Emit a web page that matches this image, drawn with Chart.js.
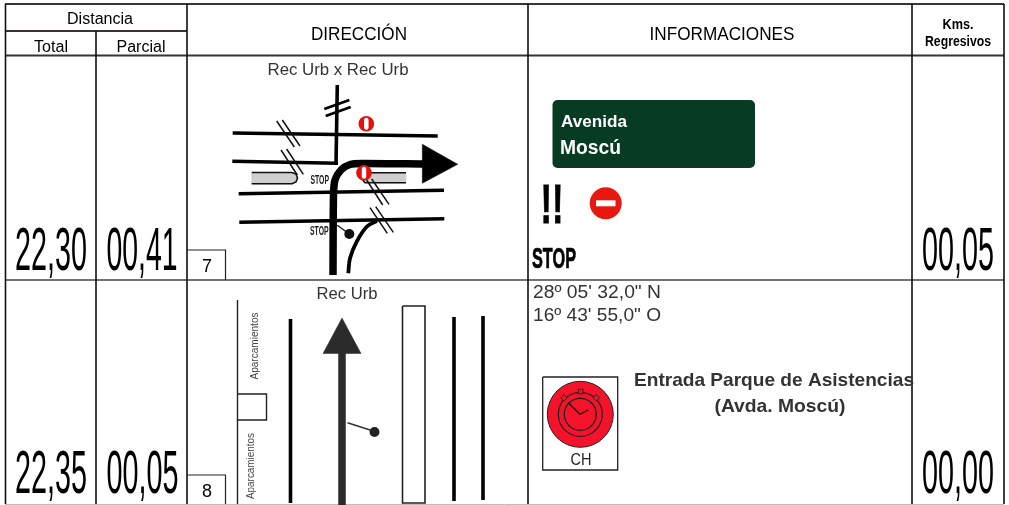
<!DOCTYPE html>
<html lang="es">
<head>
<meta charset="utf-8">
<title>Rutómetro</title>
<script src="https://cdn.jsdelivr.net/npm/chart.js@4"></script>
<style>
  html, body { margin: 0; background: #fff; }
  canvas { display: block; }
</style>
</head>
<body>
<canvas id="roadbook" width="1009" height="505"></canvas>
<script>
/* Valores del rutómetro */
const distTotal = ['22,30', '22,35'];
const distParcial = ['00,41', '00,05'];
const kmsRegresivos = ['00,05', '00,00'];
const casillas = ['7', '8'];
const viaTipo = ['Rec Urb x Rec Urb', 'Rec Urb'];
const coordenadas = ['28º 05\' 32,0" N', '16º 43\' 55,0" O'];
const lugar = ['Entrada Parque de Asistencias', '(Avda. Moscú)'];
const cartel = ['Avenida', 'Moscú'];
const cabecera = ['Distancia', 'Total', 'Parcial', 'DIRECCIÓN', 'INFORMACIONES', 'Kms.', 'Regresivos'];

/* Trazos del croquis, en las unidades de los ejes (0-1009 / 0-505) */
const gridDark = [[[5, 4], [1004, 4]], [[5, 55.5], [1004, 55.5]], [[5, 31], [187, 31]]];
const gridRow = [[[5, 280], [1004, 280]]];
const gridBottom = [[[5, 504.5], [1004, 504.5]]];
const gridCols = [[[5.5, 4], [5.5, 504]], [[96, 31], [96, 504]], [[187, 4], [187, 504]], [[528, 4], [528, 504]], [[912, 4], [912, 504]], [[1004, 4], [1004, 504]]];
const boxes = [
  [[187, 250], [225.5, 250], [225.5, 280]],
  [[187, 475], [225.5, 475], [225.5, 504]]
];

const crossStreets = [
  [[232.7, 133], [437.7, 136]],
  [[232.3, 161.3], [338, 163.3]],
  [[238.7, 193.7], [444, 190.3]],
  [[239.3, 222.3], [444.3, 218.7]],
  [[337.3, 85], [336, 165]]
];
const topHatch = [
  [[324.3, 109], [349.3, 100]], [[325.7, 116], [350.7, 107]]
];
const hatchMarks = [
  [[276.7, 121], [294.3, 147]], [[282.3, 120], [300, 146]],
  [[281, 150], [297.3, 175]], [[286.7, 149], [303.3, 174.3]],
  [[366.7, 180], [382.7, 205]], [[371.7, 179], [389, 204.3]],
  [[370, 207.7], [387.3, 233.3]], [[375.7, 206.7], [393.3, 232.3]]
];
const routeMain = [[333, 275], [333.5, 195], [335, 180], [341, 170], [350, 164.5], [362, 163.5], [424, 164]];
const routeHead = [[422.3, 144.3], [457.7, 164.3], [422.3, 183.3], [422.3, 144.3]];
const sideCurve = [[348.3, 273.3], [350, 258.3], [356.7, 241.7], [366.7, 226.7], [376.7, 221]];
const islandLeft = [[251.7, 172.5], [292, 172.5], [296, 174], [297.5, 178], [296, 182], [292, 183.7], [251.7, 183.7], [251.7, 172.5]];
const islandLeftEdge = [[251.7, 172.5], [292, 172.5], [296, 174], [297.5, 178], [296, 182], [292, 183.7], [251.7, 183.7]];
const islandRight = [[406, 172.7], [370, 172.7], [361, 178], [365, 182.7], [406, 182.7], [406, 172.7]];
const islandRightEdge = [[406, 172.7], [370, 172.7], [361, 178], [365, 182.7], [406, 182.7]];
const poleTop = [[337.3, 225.3], [349.3, 234]];
const poleDot = [[349.3, 234]];
const warnSigns = [[366.3, 123.7], [364, 172.7]];
const warnBars = [[[366.3, 120], [366.3, 127.5]], [[364, 169], [364, 176.5]]];

const greenSign = [[650, 105], [750, 105], [750, 163], [557.5, 163], [557.5, 105], [650, 105], [750, 105]];
const noEntry = [[605.7, 203.3]];
const noEntryBar = [[596, 203.3], [615.5, 203.3]];

const curbLeft = [[[237.5, 300], [237.5, 394]], [[237.5, 420], [237.5, 504]]];
const parkingBox = [[237.5, 394], [266.5, 394], [266.5, 420], [237.5, 420], [237.5, 394]];
const laneLines = [[[290.5, 319], [290.5, 503]], [[454, 317], [454, 501]], [[483, 316], [483, 500]]];
const medianBox = [[402.5, 306], [425, 306], [425, 503], [402.5, 503], [402.5, 306]];
const straightRoute = [[342, 505], [342, 350]];
const straightHead = [[342, 318], [361, 353.5], [323, 353.5], [342, 318]];
const pole2 = [[347.5, 422.7], [370, 430]];
const poleDot2 = [[374.5, 432]];

const chBox = [[542.7, 377], [617.7, 377], [617.7, 470], [542.7, 470], [542.7, 377]];
const chDisc = [[580.3, 414.3]];
const chKnobs = [[580.7, 391.5], [564, 397.7], [596.3, 397.7]];
const chKnobTilt = [0, -45, 45];
const chTicks = [[580, 398], [591.3, 403], [596, 414.3], [591.3, 425.6], [580, 430.3], [568.7, 425.6], [564, 414.3], [568.7, 403]];
const chHands = [[568.3, 402.7], [580, 414.3], [588.3, 410]];

const FONT = '"Liberation Sans", Arial, sans-serif';
const toPoints = pts => pts.map(p => ({ x: p[0], y: p[1] }));

// orden de pintado = orden de inserción; se invierte al final porque Chart.js pinta del último al primero
const datasets = [];

function stroke(pts, color, width, extra) {
  datasets.push({
    data: toPoints(pts), showLine: true, pointRadius: 0,
    borderColor: color, borderWidth: width, borderCapStyle: 'butt',
    borderJoinStyle: 'miter', fill: false, ...extra
  });
}
function shape(pts, color, extra) {
  stroke(pts, extra && extra.borderColor || color, extra && extra.borderWidth || 0.5, {
    fill: 'shape', backgroundColor: color, ...extra
  });
}
function dots(pts, radius, color, extra) {
  datasets.push({
    data: toPoints(pts), showLine: false, pointRadius: radius,
    pointBackgroundColor: color, pointBorderColor: color, pointBorderWidth: 0, ...extra
  });
}

// rejilla
gridRow.forEach(l => stroke(l, '#444', 1.6));
gridBottom.forEach(l => stroke(l, '#bdbdbd', 1));
gridDark.forEach(l => stroke(l, '#3a3333', 1.8));
gridCols.forEach(l => stroke(l, '#111', 1.6));
boxes.forEach(l => stroke(l, '#222', 1.2));

// croquis 7
shape(islandLeft, '#cfcfcf');
shape(islandRight, '#cfcfcf');
stroke(islandLeftEdge, '#111', 1.6);
stroke(islandRightEdge, '#111', 1.6);
crossStreets.forEach(l => stroke(l, '#000', 3.6));
topHatch.forEach(l => stroke(l, '#000', 2.8));
hatchMarks.forEach(l => stroke(l, '#111', 1.5));
stroke(sideCurve, '#000', 3.8, { tension: 0.35 });
stroke(poleTop, '#111', 1.3);
dots(poleDot, 5, '#111');
stroke(routeMain, '#000', 7.5, { tension: 0.25 });
shape(routeHead, '#000');
dots(warnSigns, 7.8, '#e3120b');
warnBars.forEach(l => stroke(l, '#fff', 4.5, { borderCapStyle: 'round' }));

// informaciones 7
shape(greenSign, '#073b24', { borderColor: '#073b24', borderWidth: 10, borderJoinStyle: 'round' });
dots(noEntry, 16, '#e8170f');
stroke(noEntryBar, '#fff', 6);

// croquis 8
curbLeft.forEach(l => stroke(l, '#222', 1.4));
stroke(parkingBox, '#222', 1.4);
laneLines.forEach(l => stroke(l, '#000', 3.6));
stroke(medianBox, '#222', 1.6);
stroke(straightRoute, '#2b2b2b', 7.5);
shape(straightHead, '#2b2b2b');
stroke(pole2, '#333', 1.5);
dots(poleDot2, 5, '#222');

// control horario
stroke(chBox, '#222', 1.3);
dots(chDisc, 33, '#f5132b', { pointBorderColor: '#222', pointBorderWidth: 1 });
dots(chDisc, 22, 'transparent', { pointBorderColor: '#222', pointBorderWidth: 1.2 });
dots(chDisc, 16, 'transparent', { pointBorderColor: '#222', pointBorderWidth: 1.2 });
dots(chKnobs, 3.2, '#f5132b', { pointStyle: 'rect', pointRotation: chKnobTilt, pointBorderColor: '#222', pointBorderWidth: 0.9 });
dots(chTicks, 0.8, '#222');
stroke(chHands, '#111', 1.2);

datasets.reverse();

/* Textos: [texto, x, línea base, tamaño, ancho final, opciones] */
const GREY = '#333';
const textMarks = [
  [cabecera[0], 100, 24, 16, 66, {}],
  [cabecera[1], 51, 52, 16, 34, {}],
  [cabecera[2], 141, 52, 16, 49, {}],
  [cabecera[3], 359, 40, 19, 96, {}],
  [cabecera[4], 722, 40, 19, 145, {}],
  [cabecera[5], 958, 29, 15, 31, { bold: true }],
  [cabecera[6], 958, 46, 15, 66, { bold: true }],
  [distTotal[0], 51, 270, 62, 72, {}],
  [distParcial[0], 142, 270, 62, 71, {}],
  [kmsRegresivos[0], 958, 270, 62, 72, {}],
  [distTotal[1], 51, 493, 62, 72, {}],
  [distParcial[1], 142.5, 493, 62, 72, {}],
  [kmsRegresivos[1], 958, 493, 62, 72, {}],
  [casillas[0], 207, 272, 18, 10, {}],
  [casillas[1], 207, 497, 18, 10, {}],
  [viaTipo[0], 338, 75, 17, 141, { color: GREY }],
  [viaTipo[1], 347, 299, 17, 61, { color: GREY }],
  ['STOP', 319.7, 183.5, 12, 18.5, { bold: true, color: '#222' }],
  ['STOP', 319.3, 235, 12, 18.5, { bold: true, color: '#222' }],
  [cartel[0], 594, 127, 17, 66, { bold: true, color: '#fff' }],
  [cartel[1], 590.5, 154, 20, 61, { bold: true, color: '#fff' }],
  ['!!', 552, 223, 55, 23, { bold: true, heavy: 0.8 }],
  ['STOP', 554, 268, 29, 44, { bold: true, heavy: 0.7 }],
  [coordenadas[0], 597, 298, 18, 128, { color: GREY }],
  [coordenadas[1], 597, 321, 18, 128, { color: GREY }],
  [lugar[0], 774, 386, 19, 280, { bold: true, color: GREY }],
  [lugar[1], 780, 412, 19, 131, { bold: true, color: GREY }],
  ['CH', 581, 465, 16, 21, { color: '#222' }],
  ['Aparcamientos', 258, 346, 10, 67, { rotate: true, color: '#444' }],
  ['Aparcamientos', 254, 466, 10, 66, { rotate: true, color: '#444' }]
];

// texto ajustado a un ancho, para las cifras estrechas del rutómetro
const roadbookText = {
  id: 'roadbookText',
  afterDatasetsDraw(chart) {
    const { ctx, scales } = chart;
    textMarks.forEach(([str, x, y, size, width, opt]) => {
      ctx.save();
      ctx.font = `${opt.bold ? 'bold ' : ''}${size}px ${FONT}`;
      ctx.fillStyle = opt.color || '#000';
      ctx.textAlign = 'center';
      ctx.textBaseline = 'alphabetic';
      ctx.translate(scales.x.getPixelForValue(x), scales.y.getPixelForValue(y));
      if (opt.rotate) ctx.rotate(-Math.PI / 2);
      ctx.scale(width / ctx.measureText(str).width, 1);
      ctx.fillText(str, 0, 0);
      if (opt.heavy) {
        ctx.lineWidth = opt.heavy;
        ctx.strokeStyle = ctx.fillStyle;
        ctx.strokeText(str, 0, 0);
      }
      ctx.restore();
    });
  }
};

new Chart(document.getElementById('roadbook').getContext('2d'), {
  type: 'scatter',
  data: { datasets },
  plugins: [roadbookText],
  options: {
    responsive: false,
    animation: false,
    events: [],
    layout: { padding: 0, autoPadding: false },
    clip: false,
    plugins: { legend: { display: false }, tooltip: { enabled: false } },
    scales: {
      x: { type: 'linear', min: 0, max: 1009, display: false },
      y: { type: 'linear', min: 0, max: 505, reverse: true, display: false }
    }
  }
});
</script>
</body>
</html>
